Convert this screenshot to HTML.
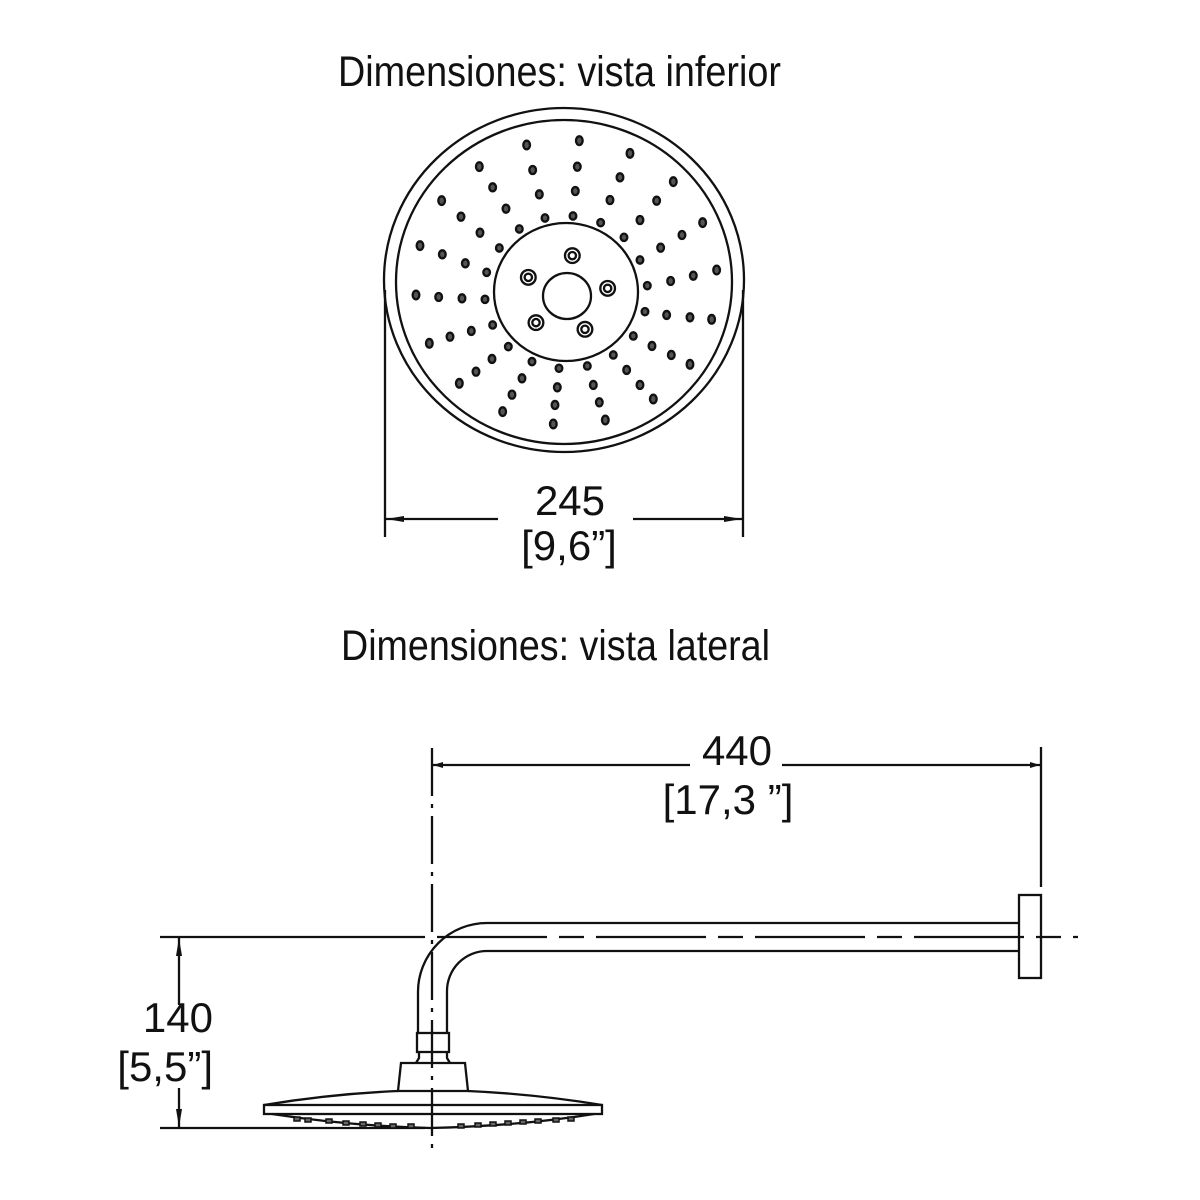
<!DOCTYPE html>
<html><head><meta charset="utf-8"><style>
html,body{margin:0;padding:0;background:#fff;}
svg{display:block;}
.t{font-family:"Liberation Sans Narrow","Liberation Sans",sans-serif;font-size:43px;fill:#111;}
.d{font-family:"Liberation Sans",sans-serif;font-size:42px;fill:#111;}
</style></head><body>
<svg width="1200" height="1200" viewBox="0 0 1200 1200" xmlns="http://www.w3.org/2000/svg">
<defs>
<marker id="a" viewBox="0 0 10 6" refX="10" refY="3" markerWidth="10" markerHeight="6" orient="auto-start-reverse" markerUnits="userSpaceOnUse"><path d="M0,0 L10,3 L0,6 z" fill="#111"/></marker>
<marker id="b" viewBox="0 0 18 6" refX="18" refY="3" markerWidth="18" markerHeight="6" orient="auto-start-reverse" markerUnits="userSpaceOnUse"><path d="M0,0 L18,3 L0,6 z" fill="#111"/></marker>
</defs>
<text class="t" x="338" y="86" textLength="443" lengthAdjust="spacingAndGlyphs">Dimensiones: vista inferior</text>
<text class="t" x="341" y="660" textLength="429" lengthAdjust="spacingAndGlyphs">Dimensiones: vista lateral</text>

<g fill="none" stroke="#111" stroke-width="2.3">
<ellipse cx="564" cy="280" rx="180" ry="172"/>
<ellipse cx="564" cy="282" rx="168" ry="162"/>
<ellipse cx="566" cy="292" rx="72" ry="69"/>
<ellipse cx="567" cy="296" rx="24" ry="23"/>
<line x1="385" y1="290" x2="385" y2="537"/>
<line x1="743" y1="290" x2="743" y2="537"/>
<line x1="498" y1="519" x2="386" y2="519" marker-end="url(#b)"/>
<line x1="633" y1="519" x2="742" y2="519" marker-end="url(#b)"/>
</g>
<g transform="translate(380,100) scale(0.3333)" fill="#555" stroke="#111" stroke-width="7">
<g>
<ellipse cx="440" cy="135" rx="10" ry="13"/><ellipse cx="598" cy="122" rx="10" ry="13"/><ellipse cx="750" cy="160" rx="10" ry="13"/><ellipse cx="298" cy="200" rx="10" ry="13"/><ellipse cx="458" cy="210" rx="10" ry="12"/><ellipse cx="592" cy="200" rx="10" ry="12"/><ellipse cx="720" cy="232" rx="10" ry="12"/><ellipse cx="880" cy="245" rx="10" ry="13"/><ellipse cx="338" cy="262" rx="10" ry="12"/><ellipse cx="478" cy="283" rx="10" ry="12"/><ellipse cx="586" cy="273" rx="10" ry="12"/><ellipse cx="690" cy="300" rx="10" ry="12"/><ellipse cx="830" cy="302" rx="10" ry="12"/><ellipse cx="185" cy="302" rx="10" ry="13"/><ellipse cx="378" cy="326" rx="10" ry="12"/><ellipse cx="495" cy="354" rx="10" ry="11"/><ellipse cx="579" cy="348" rx="10" ry="11"/><ellipse cx="662" cy="368" rx="10" ry="11"/><ellipse cx="780" cy="360" rx="10" ry="12"/><ellipse cx="968" cy="368" rx="10" ry="13"/><ellipse cx="243" cy="350" rx="10" ry="12"/><ellipse cx="300" cy="398" rx="10" ry="12"/><ellipse cx="418" cy="387" rx="10" ry="11"/><ellipse cx="732" cy="412" rx="10" ry="11"/><ellipse cx="906" cy="405" rx="10" ry="12"/><ellipse cx="120" cy="437" rx="10" ry="13"/><ellipse cx="358" cy="444" rx="10" ry="11"/><ellipse cx="842" cy="443" rx="10" ry="12"/><ellipse cx="187" cy="463" rx="10" ry="12"/><ellipse cx="256" cy="490" rx="10" ry="12"/><ellipse cx="320" cy="517" rx="10" ry="11"/><ellipse cx="780" cy="480" rx="10" ry="11"/><ellipse cx="1010" cy="510" rx="10" ry="13"/><ellipse cx="940" cy="527" rx="10" ry="12"/><ellipse cx="872" cy="543" rx="10" ry="12"/><ellipse cx="802" cy="557" rx="10" ry="11"/><ellipse cx="108" cy="585" rx="10" ry="13"/><ellipse cx="176" cy="591" rx="10" ry="12"/><ellipse cx="246" cy="595" rx="10" ry="12"/><ellipse cx="315" cy="598" rx="10" ry="11"/><ellipse cx="795" cy="635" rx="10" ry="11"/><ellipse cx="860" cy="645" rx="10" ry="12"/><ellipse cx="930" cy="652" rx="10" ry="12"/><ellipse cx="995" cy="658" rx="10" ry="13"/><ellipse cx="338" cy="675" rx="10" ry="11"/><ellipse cx="274" cy="693" rx="10" ry="12"/><ellipse cx="210" cy="710" rx="10" ry="12"/><ellipse cx="148" cy="730" rx="10" ry="13"/><ellipse cx="760" cy="708" rx="10" ry="11"/><ellipse cx="816" cy="738" rx="10" ry="12"/><ellipse cx="874" cy="765" rx="10" ry="12"/><ellipse cx="930" cy="793" rx="10" ry="13"/><ellipse cx="385" cy="740" rx="10" ry="11"/><ellipse cx="456" cy="785" rx="10" ry="11"/><ellipse cx="537" cy="805" rx="10" ry="11"/><ellipse cx="622" cy="798" rx="10" ry="11"/><ellipse cx="700" cy="765" rx="10" ry="11"/><ellipse cx="740" cy="810" rx="10" ry="12"/><ellipse cx="336" cy="777" rx="10" ry="12"/><ellipse cx="288" cy="815" rx="10" ry="12"/><ellipse cx="238" cy="850" rx="10" ry="13"/><ellipse cx="426" cy="835" rx="10" ry="12"/><ellipse cx="532" cy="862" rx="10" ry="12"/><ellipse cx="640" cy="855" rx="10" ry="12"/><ellipse cx="780" cy="855" rx="10" ry="12"/><ellipse cx="396" cy="884" rx="10" ry="12"/><ellipse cx="525" cy="915" rx="10" ry="12"/><ellipse cx="658" cy="907" rx="10" ry="12"/><ellipse cx="820" cy="897" rx="10" ry="13"/><ellipse cx="368" cy="935" rx="10" ry="13"/><ellipse cx="520" cy="972" rx="10" ry="13"/><ellipse cx="676" cy="960" rx="10" ry="13"/>
</g>
<g fill="#fff">
<circle cx="577" cy="467" r="22"/><circle cx="577" cy="467" r="11"/>
<circle cx="445" cy="532" r="22"/><circle cx="445" cy="532" r="11"/>
<circle cx="683" cy="565" r="22"/><circle cx="683" cy="565" r="11"/>
<circle cx="468" cy="668" r="22"/><circle cx="468" cy="668" r="11"/>
<circle cx="615" cy="688" r="22"/><circle cx="615" cy="688" r="11"/>
</g>
</g>
<text class="d" x="570" y="515" text-anchor="middle">245</text>
<text class="d" x="569" y="560" text-anchor="middle">[9,6”]</text>

<g fill="none" stroke="#111" stroke-width="2.3">
<line x1="432" y1="748" x2="432" y2="1155" stroke-dasharray="48,8,4,8"/>
<line x1="1041" y1="747" x2="1041" y2="887"/>
<line x1="690" y1="765" x2="433" y2="765" marker-end="url(#a)"/>
<line x1="782" y1="765" x2="1040" y2="765" marker-end="url(#a)"/>
<line x1="160" y1="937" x2="425" y2="937"/>
<line x1="437" y1="937" x2="1078" y2="937" stroke-dasharray="110,12,25,12"/>
<line x1="160" y1="1128" x2="425" y2="1128"/>
<line x1="179" y1="1005" x2="179" y2="938" marker-end="url(#b)"/>
<line x1="179" y1="1088" x2="179" y2="1127" marker-end="url(#b)"/>
<path d="M1019,923 L487,923 A69,69 0 0 0 418,992 L418,1033"/>
<path d="M1019,951 L487,951 A40,40 0 0 0 447,991 L447,1033"/>
<rect x="1019" y="895" width="22" height="83"/>
<rect x="417" y="1033" width="32" height="19"/>
<path d="M419,1052 L419,1058 L416,1063 M447,1052 L447,1058 L450,1063"/>
<path d="M401,1063 L465,1063 L468,1091 L398,1091 Z"/>
<path d="M264,1105 Q330,1094 398,1091 M468,1091 Q535,1094 602,1105"/>
<rect x="264" y="1105" width="338" height="9"/>
<path d="M272,1114 Q350,1126 430,1128 Q520,1126 594,1114"/>
</g>
<g fill="#666" stroke="#111" stroke-width="1.5">
<rect x="294" y="1117" width="6" height="4"/><rect x="305" y="1118" width="6" height="4"/><rect x="326" y="1119" width="6" height="4"/><rect x="343" y="1121" width="6" height="4"/><rect x="360" y="1122" width="6" height="4"/><rect x="375" y="1123" width="6" height="4"/><rect x="390" y="1124" width="6" height="4"/><rect x="408" y="1124" width="6" height="4"/><rect x="458" y="1124" width="6" height="4"/><rect x="475" y="1123" width="6" height="4"/><rect x="490" y="1122" width="6" height="4"/><rect x="505" y="1121" width="6" height="4"/><rect x="520" y="1120" width="6" height="4"/><rect x="535" y="1119" width="6" height="4"/><rect x="553" y="1118" width="6" height="4"/><rect x="568" y="1117" width="6" height="4"/>
</g>
<text class="d" x="737" y="765" text-anchor="middle">440</text>
<text class="d" x="728" y="814" text-anchor="middle">[17,3 ”]</text>
<text class="d" x="213" y="1032" text-anchor="end">140</text>
<text class="d" x="213" y="1081" text-anchor="end">[5,5”]</text>
</svg>
</body></html>
